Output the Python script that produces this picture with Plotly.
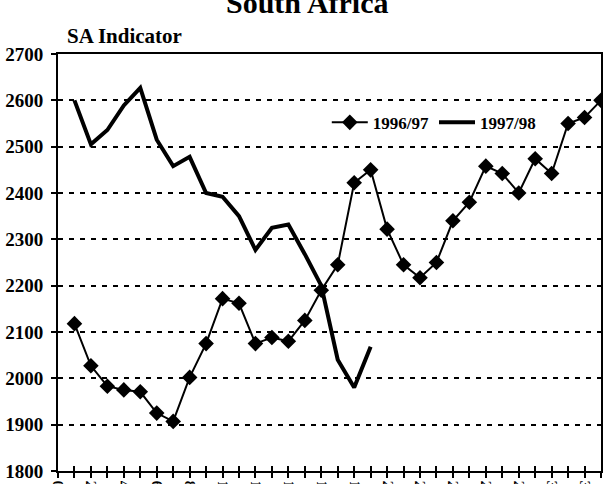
import plotly.graph_objects as go

# ---- data ----
periods = list(range(1, 34))
sa_1996_97 = [2118, 2027, 1983, 1975, 1971, 1925, 1907, 2002, 2075, 2172,
              2162, 2075, 2088, 2080, 2125, 2190, 2245, 2422, 2450, 2322,
              2245, 2217, 2250, 2340, 2380, 2458, 2442, 2400, 2474, 2442,
              2550, 2563, 2600]
sa_1997_98 = [2600, 2505, 2536, 2589, 2627, 2515, 2458, 2478, 2400, 2392,
              2350, 2277, 2325, 2332, 2268, 2200, 2040, 1980, 2068]
y_tick_vals = [1800, 1900, 2000, 2100, 2200, 2300, 2400, 2500, 2600, 2700]
x_tick_vals = list(range(0, 34))
x_tick_text = [str(v) if v % 2 == 0 else "" for v in x_tick_vals]

SERIF = "Liberation Serif"

fig = go.Figure()
fig.add_trace(go.Scatter(
    x=periods, y=sa_1996_97, name="1996/97", mode="lines+markers",
    line=dict(color="black", width=2),
    marker=dict(symbol="diamond", size=12, color="black"),
    cliponaxis=False,
))
fig.add_trace(go.Scatter(
    x=periods[:len(sa_1997_98)], y=sa_1997_98, name="1997/98", mode="lines",
    line=dict(color="black", width=4),
))
# dummy trace to host the overlay axes (inside ticks)
fig.add_trace(go.Scatter(x=[None], y=[None], xaxis="x2", yaxis="y2",
                         showlegend=False, hoverinfo="skip"))

axis_font = dict(family=SERIF, size=19, color="black", weight="bold")

fig.update_layout(
    template="none",
    width=603, height=484,
    margin=dict(l=58, r=2, t=54, b=13, autoexpand=False),
    paper_bgcolor="white", plot_bgcolor="white",
    showlegend=True,
    legend=dict(orientation="h", x=0.495, y=0.835, xanchor="left", yanchor="middle",
                bgcolor="rgba(0,0,0,0)", borderwidth=0,
                font=dict(family=SERIF, size=17, color="black", weight="bold"),
                itemwidth=36, tracegroupgap=0),
    xaxis=dict(range=[0, 33], tickvals=x_tick_vals, ticktext=x_tick_text,
               tickangle=90, ticks="outside", ticklen=5, tickwidth=2, tickcolor="black",
               showline=True, linewidth=2, linecolor="black", mirror=True, automargin=False,
               showgrid=False, zeroline=False,
               tickfont=dict(family=SERIF, size=14, color="black", weight="bold")),
    yaxis=dict(range=[1800, 2700], tickvals=y_tick_vals, ticks="outside", ticklen=5,
               tickwidth=2, tickcolor="black", showline=True, linewidth=2, linecolor="black",
               mirror=True, showgrid=True, gridcolor="black", gridwidth=2, griddash="5px,6px",
               zeroline=False, tickfont=axis_font, ticklabelstandoff=4, automargin=False),
    xaxis2=dict(range=[0, 33], overlaying="x", anchor="y", tickvals=x_tick_vals,
                ticks="inside", ticklen=5, tickwidth=2, tickcolor="black", automargin=False,
                showticklabels=False, showgrid=False, showline=False, zeroline=False, side="bottom"),
    yaxis2=dict(range=[1800, 2700], overlaying="y", anchor="x", tickvals=y_tick_vals,
                ticks="inside", ticklen=5, tickwidth=2, tickcolor="black", automargin=False,
                showticklabels=False, showgrid=False, showline=False, zeroline=False, side="left"),
    annotations=[
        dict(text="South Africa", xref="paper", yref="paper", x=0.46, y=1.078,
             xanchor="center", yanchor="bottom", showarrow=False,
             font=dict(family=SERIF, size=30, color="black", weight="bold")),
        dict(text="SA Indicator", xref="paper", yref="paper", x=0.012, y=1.01,
             xanchor="left", yanchor="bottom", showarrow=False,
             font=dict(family=SERIF, size=21, color="black", weight="bold")),
    ],
)

fig.write_html("out.html", config={"displayModeBar": False},
               post_script="document.body.style.margin='0';document.body.style.overflow='hidden';")
